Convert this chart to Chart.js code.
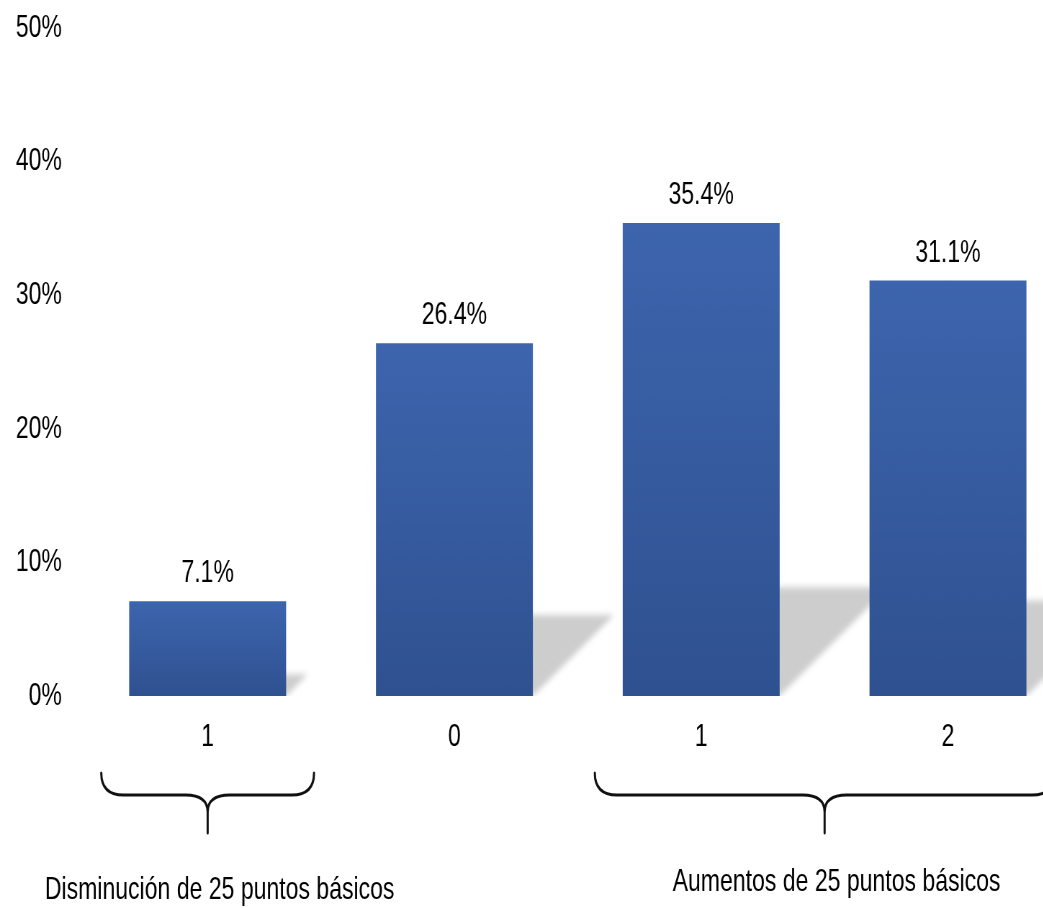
<!DOCTYPE html>
<html>
<head>
<meta charset="utf-8">
<script src="https://cdn.jsdelivr.net/npm/chart.js@4/dist/chart.umd.min.js"></script>
<style>
  html, body { margin: 0; padding: 0; background: #fff; }
  #wrap { width: 1043px; height: 908px; overflow: hidden; position: relative; }
  /* the original picture is squeezed horizontally, so is the canvas */
  #chart { position: absolute; left: 0; top: 0; transform: scaleX(0.72); transform-origin: 0 0; }
</style>
</head>
<body>
<div id="wrap"><canvas id="chart" width="1500" height="908"></canvas></div>
<script>
var categories = ["1", "0", "1", "2"];
var shares = [7.1, 26.4, 35.4, 31.1];
var yTicks = [0, 10, 20, 30, 40, 50];
var groupLabels = ["Disminución de 25 puntos básicos", "Aumentos de 25 puntos básicos"];
var groupRanges = [[0, 0], [2, 3]];

var SX = 0.72;
var FONT = "'Liberation Sans', Arial, sans-serif";

function barGradient(context) {
  var chart = context.chart;
  if (!chart.chartArea) return '#3a60a8';
  var y = chart.scales.y;
  var v = context.parsed ? context.parsed.y : 0;
  var top = y.getPixelForValue(v), bottom = y.getPixelForValue(0);
  if (!isFinite(top) || top === bottom) return '#3a60a8';
  var g = chart.ctx.createLinearGradient(0, top, 0, bottom);
  g.addColorStop(0, '#3d65ae');
  g.addColorStop(1, '#2f5190');
  return g;
}

var shadowPlugin = {
  id: 'shadows',
  beforeDatasetsDraw: function(chart) {
    var ctx = chart.ctx, area = chart.chartArea;
    ctx.save();
    ctx.beginPath();
    ctx.rect(area.left, area.top, chart.width - area.left, area.bottom - area.top);
    ctx.clip();
    ctx.filter = 'blur(3px)';
    ctx.fillStyle = '#cdcdcd';
    chart.getDatasetMeta(0).data.forEach(function(bar) {
      var h = bar.base - bar.y;
      var d = h * 0.23, dx = d / SX;
      var l = bar.x - bar.width / 2, r = bar.x + bar.width / 2;
      ctx.beginPath();
      ctx.moveTo(l + 4, bar.base);
      ctx.lineTo(r, bar.base);
      ctx.lineTo(r + dx, bar.base - d);
      ctx.lineTo(l + dx, bar.base - d);
      ctx.closePath();
      ctx.fill();
    });
    ctx.restore();
  }
};

var valueLabels = {
  id: 'valueLabels',
  afterDatasetsDraw: function(chart) {
    var ctx = chart.ctx;
    ctx.save();
    ctx.font = '32px ' + FONT;
    ctx.fillStyle = '#000';
    ctx.textAlign = 'center';
    ctx.textBaseline = 'alphabetic';
    chart.getDatasetMeta(0).data.forEach(function(bar, i) {
      ctx.fillText(shares[i].toFixed(1) + '%', bar.x, bar.y - 19);
    });
    ctx.restore();
  }
};

var braces = {
  id: 'braces',
  afterDraw: function(chart) {
    var ctx = chart.ctx, xs = chart.scales.x;
    var half = (xs.getPixelForValue(1) - xs.getPixelForValue(0)) / 2;
    var inset = 17 / SX, r = 22 / SX;
    var yTop = 773, yLine = 795, yCusp = 812, yTip = 833;
    var baselines = [899, 891];
    ctx.save();
    ctx.strokeStyle = '#111';
    ctx.lineWidth = 3;
    ctx.lineCap = 'round';
    groupRanges.forEach(function(rg, i) {
      var x0 = xs.getPixelForValue(rg[0]) - half + inset;
      var x1 = xs.getPixelForValue(rg[1]) + half - inset;
      var cx = (x0 + x1) / 2;
      ctx.beginPath();
      ctx.moveTo(x0, yTop);
      ctx.quadraticCurveTo(x0, yLine, x0 + r, yLine);
      ctx.lineTo(cx - r, yLine);
      ctx.quadraticCurveTo(cx, yLine, cx, yCusp);
      ctx.lineTo(cx, yTip);
      ctx.moveTo(cx, yCusp);
      ctx.quadraticCurveTo(cx, yLine, cx + r, yLine);
      ctx.lineTo(x1 - r, yLine);
      ctx.quadraticCurveTo(x1, yLine, x1, yTop);
      ctx.stroke();

      ctx.font = '32px ' + FONT;
      ctx.fillStyle = '#000';
      ctx.textAlign = 'center';
      ctx.fillText(groupLabels[i], cx + 12 / SX, baselines[i]);
    });
    ctx.restore();
  }
};

new Chart(document.getElementById('chart'), {
  type: 'bar',
  data: {
    labels: categories,
    datasets: [{
      data: shares,
      backgroundColor: barGradient,
      borderWidth: 0,
      barPercentage: 0.636,
      categoryPercentage: 1
    }]
  },
  options: {
    responsive: false,
    animation: false,
    devicePixelRatio: 1,
    layout: { padding: { top: 28, right: 12, bottom: 0, left: 0 } },
    plugins: { legend: { display: false }, tooltip: { enabled: false } },
    scales: {
      x: {
        grid: { display: false, drawTicks: false },
        border: { display: false },
        ticks: { color: '#000', font: { family: FONT, size: 32 }, padding: 22 },
        afterFit: function(axis) {
          axis.height = 212;
          axis.paddingLeft = 0;
          axis.paddingRight = 0;
        }
      },
      y: {
        min: 0,
        max: 50,
        grid: { display: false, drawTicks: false },
        border: { display: false },
        afterBuildTicks: function(axis) {
          axis.ticks = yTicks.map(function(v) { return { value: v }; });
        },
        ticks: {
          color: '#000',
          font: { family: FONT, size: 32 },
          padding: 31,
          callback: function(v) { return v + '%'; }
        },
        afterFit: function(axis) {
          axis.width = 117;
          axis.paddingTop = 0;
          axis.paddingBottom = 0;
        }
      }
    }
  },
  plugins: [shadowPlugin, valueLabels, braces]
});
</script>
</body>
</html>
